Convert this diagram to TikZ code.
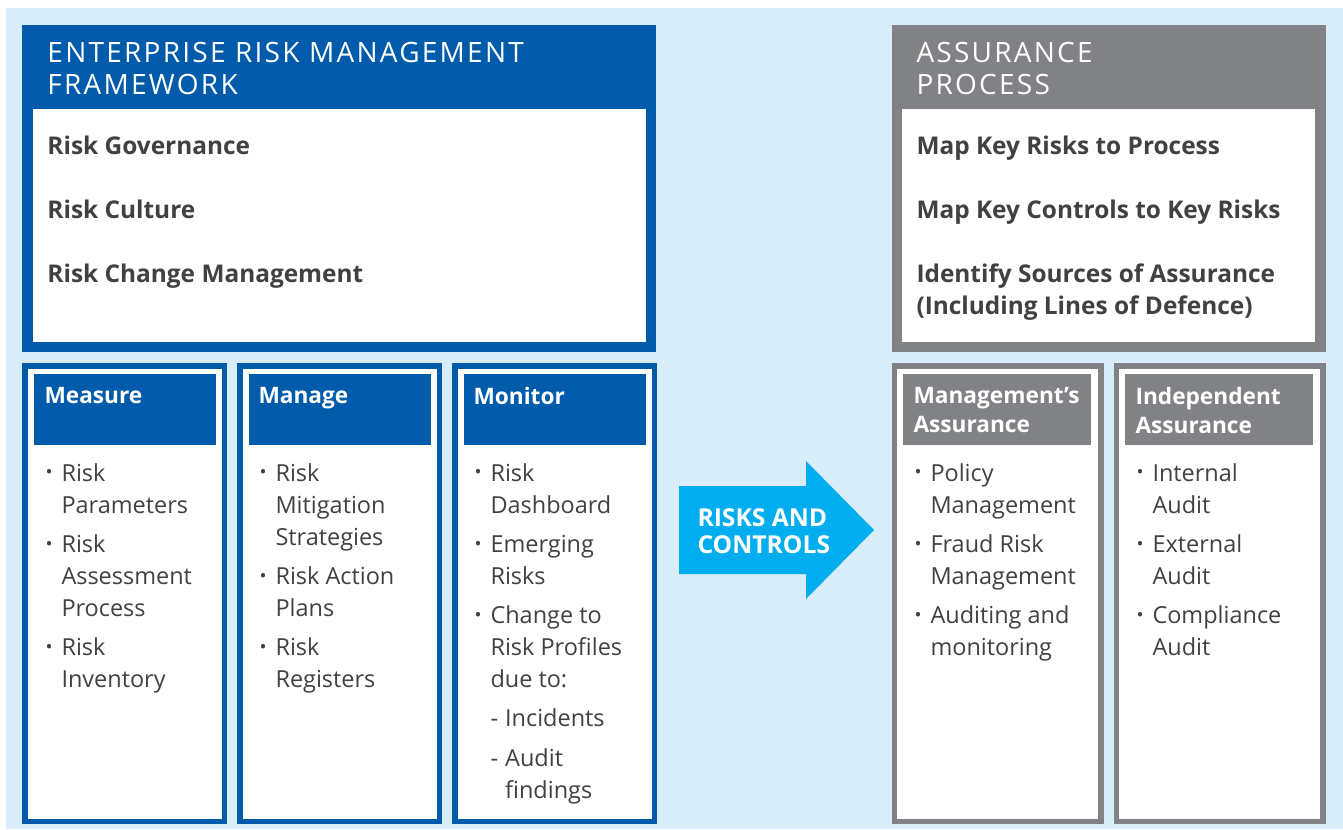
\documentclass[tikz,border=0pt]{standalone}
\usepackage{fontspec}
\setmainfont{Open Sans}
\newfontfamily\widefont[LetterSpace=8]{Open Sans}
\definecolor{ermblue}{RGB}{0,91,170}
\definecolor{assgrey}{RGB}{128,130,133}
\definecolor{paleblue}{RGB}{217,236,249}
\definecolor{arrowcyan}{RGB}{0,174,239}
\definecolor{bodytext}{RGB}{65,64,66}
\tikzset{every picture/.style={line width=0.75pt}}
% bullet and hanging line for the lists
\newcommand{\bdot}{\raisebox{0.1em}{\fontsize{14}{14}\selectfont\textbullet}}
\newcommand{\bitem}[1]{\makebox[12pt][l]{\bdot}#1}
\newcommand{\bcont}[1]{\hspace*{12pt}#1}
\newcommand{\bdash}[1]{\hspace*{12pt}\makebox[11pt][l]{-}#1}
\newcommand{\bdcont}[1]{\hspace*{23pt}#1}

\begin{document}
\begin{tikzpicture}[x=0.75pt,y=0.75pt,yscale=-1,xscale=1,
  titletext/.style={anchor=north west,inner sep=0pt,text=white,align=left,font=\widefont\fontsize{21}{24}\selectfont},
  keytext/.style={anchor=north west,inner sep=0pt,text=bodytext,align=left,font=\bfseries\fontsize{18.3}{24}\selectfont},
  headtext/.style={anchor=north west,inner sep=0pt,text=white,align=left,font=\bfseries\fontsize{17}{21.75}\selectfont},
  listtext/.style={anchor=north west,inner sep=0pt,text=bodytext,align=left,font=\fontsize{17.6}{24}\selectfont},
  arrowtext/.style={anchor=north west,inner sep=0pt,text=white,align=left,font=\bfseries\fontsize{18.5}{20.25}\selectfont}]
\useasboundingbox (0,0) rectangle (1343,829);

%Background
\fill [paleblue] (6,8) rectangle (1343,829);

%ERM framework box
\fill [ermblue] (22,25) rectangle (656,352);
\fill [white] (33,109) rectangle (646,342);
%Measure / Manage / Monitor boxes
\foreach \x in {22,237,452} {
  \fill [ermblue] (\x,363) rectangle ++(204.5,461);
  \fill [white] (\x+6,369) rectangle ++(193.5,450);
  \fill [ermblue] (\x+12,374) rectangle ++(182,71);
}

%Assurance process box
\fill [assgrey] (892,25) rectangle (1326,352);
\fill [white] (902,109) rectangle (1315,342);
%Management's / Independent boxes
\foreach \x in {892,1114} {
  \fill [assgrey] (\x,363) rectangle ++(211.5,461);
  \fill [white] (\x+5,369) rectangle ++(201,450);
  \fill [assgrey] (\x+11,374) rectangle ++(188,71);
}

%Arrow
\fill [arrowcyan] (679,486) -- (806,486) -- (806,461) -- (874,530) -- (806,599) -- (806,574) -- (679,574) -- cycle ;

% Text Node
\node (erm title) at (47,42) [titletext] {ENTERPRISE RISK MANAGEMENT\\FRAMEWORK};
% Text Node
\node (gov) at (47,135) [keytext] {Risk Governance};
% Text Node
\node (cult) at (47,199) [keytext] {Risk Culture};
% Text Node
\node (chg) at (47,263) [keytext] {Risk Change Management};

% Text Node
\node (ass title) at (916,42) [titletext] {ASSURANCE\\PROCESS};
% Text Node
\node (mapr) at (916,135) [keytext] {Map Key Risks to Process};
% Text Node
\node (mapc) at (916,199) [keytext] {Map Key Controls to Key Risks};
% Text Node
\node (srcs) at (916,263) [keytext] {Identify Sources of Assurance\\(Including Lines of Defence)};

% Text Node
\node (measure) at (44,387) [headtext] {Measure};
% Text Node
\node (manage) at (258,387) [headtext] {Manage};
% Text Node
\node (monitor) at (473,387) [headtext] {Monitor};
% Text Node
\node (mgmt) at (913,387) [headtext] {Management’s\\Assurance};
% Text Node
\node (indep) at (1135,387) [headtext] {Independent\\Assurance};

% Text Node
\node (measure list) at (45,463) [listtext] {\bitem{Risk}\\\bcont{Parameters}\\[5.3pt]
  \bitem{Risk}\\\bcont{Assessment}\\\bcont{Process}\\[5.3pt]
  \bitem{Risk}\\\bcont{Inventory}};
% Text Node
\node (manage list) at (259,463) [listtext] {\bitem{Risk}\\\bcont{Mitigation}\\\bcont{Strategies}\\[5.3pt]
  \bitem{Risk Action}\\\bcont{Plans}\\[5.3pt]
  \bitem{Risk}\\\bcont{Registers}};
% Text Node
\node (monitor list) at (474,463) [listtext] {\bitem{Risk}\\\bcont{Dashboard}\\[5.3pt]
  \bitem{Emerging}\\\bcont{Risks}\\[5.3pt]
  \bitem{Change to}\\\bcont{Risk Profiles}\\\bcont{due to:}\\[5.3pt]
  \bdash{Incidents}\\[5.8pt]
  \bdash{Audit}\\\bdcont{findings}};
% Text Node
\node (mgmt list) at (914,463) [listtext] {\bitem{Policy}\\\bcont{Management}\\[5.3pt]
  \bitem{Fraud Risk}\\\bcont{Management}\\[5.3pt]
  \bitem{Auditing and}\\\bcont{monitoring}};
% Text Node
\node (indep list) at (1136,463) [listtext] {\bitem{Internal}\\\bcont{Audit}\\[5.3pt]
  \bitem{External}\\\bcont{Audit}\\[5.3pt]
  \bitem{Compliance}\\\bcont{Audit}};

% Text Node
\node (arrow label) at (697,508) [arrowtext] {RISKS AND\\CONTROLS};
\end{tikzpicture}
\end{document}
